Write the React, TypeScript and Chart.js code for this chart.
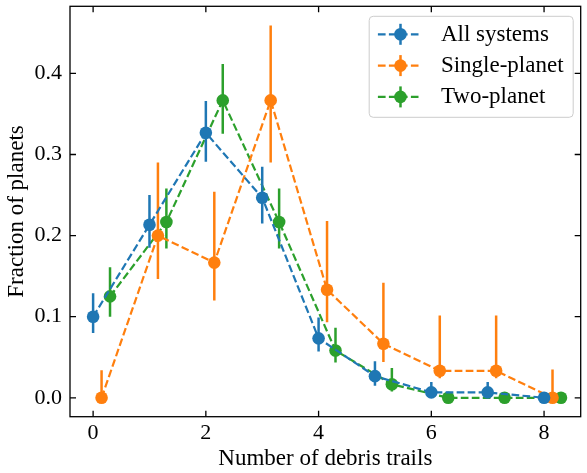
import { useEffect, useRef } from "react";
import { Chart, registerables } from "chart.js";

Chart.register(...registerables);

// ---- data ----
const xAll = [0, 1, 2, 3, 4, 5, 6, 7, 8];
const xSingle = [0.15, 1.15, 2.15, 3.15, 4.15, 5.15, 6.15, 7.15, 8.15];
const xTwo = [0.3, 1.3, 2.3, 3.3, 4.3, 5.3, 6.3, 7.3, 8.3];

const allValues = [0.1, 0.2133, 0.3267, 0.2467, 0.0733, 0.0267, 0.0067, 0.0067, 0];
const allLow = [0.08, 0.185, 0.291, 0.215, 0.057, 0.015, 0.002, 0.002, 0];
const allHigh = [0.129, 0.25, 0.366, 0.285, 0.099, 0.045, 0.0196, 0.0196, 0];

const singleValues = [0, 0.2, 0.1667, 0.3667, 0.1333, 0.0667, 0.0333, 0.0333, 0];
const singleLow = [0, 0.1465, 0.12, 0.29, 0.093, 0.044, 0.024, 0.024, 0];
const singleHigh = [0.034, 0.29, 0.254, 0.459, 0.218, 0.142, 0.1015, 0.1015, 0.035];

const twoValues = [0.125, 0.2167, 0.3667, 0.2167, 0.0583, 0.0167, 0, 0, 0];
const twoLow = [0.1, 0.184, 0.3256, 0.184, 0.0434, 0.0078, 0, 0, 0];
const twoHigh = [0.161, 0.258, 0.4115, 0.258, 0.0864, 0.0368, 0, 0, 0];

const seriesLabels = ["All systems", "Single-planet", "Two-planet"];
const seriesColors = ["#1f77b4", "#ff7f0e", "#2ca02c"];

const xTitle = "Number of debris trails";
const yTitle = "Fraction of planets";

const FONT = '"Liberation Serif", "Times New Roman", serif';
const FSIZE = 22;
const TSIZE = 23;
const DASH = [7.7, 3.3];

const errorBarPlugin = {
  id: "errorBars",
  beforeDatasetDraw(chart: any, args: any) {
    const ds = chart.data.datasets[args.index];
    if (!ds.errLow) return;
    const { ctx, chartArea } = chart;
    const xs = chart.scales.x;
    const ys = chart.scales.y;
    ctx.save();
    ctx.beginPath();
    ctx.rect(chartArea.left, chartArea.top, chartArea.right - chartArea.left, chartArea.bottom - chartArea.top);
    ctx.clip();
    ctx.strokeStyle = ds.borderColor;
    ctx.lineWidth = 2.5;
    ctx.setLineDash([]);
    ds.data.forEach((p: any, i: number) => {
      const lo = ds.errLow[i];
      const hi = ds.errHigh[i];
      if (hi - lo <= 0) return;
      const px = xs.getPixelForValue(p.x);
      ctx.beginPath();
      ctx.moveTo(px, ys.getPixelForValue(lo));
      ctx.lineTo(px, ys.getPixelForValue(hi));
      ctx.stroke();
    });
    ctx.restore();
  },
};

const frameTicksPlugin = {
  id: "frameTicks",
  afterDatasetsDraw(chart: any) {
    const { ctx, chartArea } = chart;
    const { left, right, top, bottom } = chartArea;
    const xs = chart.scales.x;
    const ys = chart.scales.y;
    const TL = 6;
    ctx.save();
    ctx.strokeStyle = "#000";
    ctx.lineWidth = 1.3;
    ctx.setLineDash([]);
    ctx.strokeRect(left, top, right - left, bottom - top);
    ctx.beginPath();
    xs.ticks.forEach((t: any) => {
      const px = xs.getPixelForValue(t.value);
      ctx.moveTo(px, bottom);
      ctx.lineTo(px, bottom - TL);
      ctx.moveTo(px, top);
      ctx.lineTo(px, top + TL);
    });
    ys.ticks.forEach((t: any) => {
      const py = ys.getPixelForValue(t.value);
      ctx.moveTo(left, py);
      ctx.lineTo(left + TL, py);
      ctx.moveTo(right, py);
      ctx.lineTo(right - TL, py);
    });
    ctx.stroke();
    ctx.restore();
  },
};

const legendPlugin = {
  id: "customLegend",
  afterDraw(chart: any) {
    const { ctx, chartArea } = chart;
    const w = 204;
    const h = 101;
    const x0 = chartArea.right - 7.5 - w;
    const y0 = chartArea.top + 10;
    ctx.save();
    const r = 4;
    ctx.beginPath();
    ctx.moveTo(x0 + r, y0);
    ctx.lineTo(x0 + w - r, y0);
    ctx.quadraticCurveTo(x0 + w, y0, x0 + w, y0 + r);
    ctx.lineTo(x0 + w, y0 + h - r);
    ctx.quadraticCurveTo(x0 + w, y0 + h, x0 + w - r, y0 + h);
    ctx.lineTo(x0 + r, y0 + h);
    ctx.quadraticCurveTo(x0, y0 + h, x0, y0 + h - r);
    ctx.lineTo(x0, y0 + r);
    ctx.quadraticCurveTo(x0, y0, x0 + r, y0);
    ctx.closePath();
    ctx.fillStyle = "rgba(255,255,255,0.8)";
    ctx.fill();
    ctx.strokeStyle = "#cccccc";
    ctx.lineWidth = 1;
    ctx.stroke();
    chart.data.datasets.forEach((ds: any, i: number) => {
      const cy = y0 + 18 + i * 31.3;
      const hx0 = x0 + 8.7;
      const hx1 = x0 + 49.3;
      const mx = x0 + 31.3;
      ctx.strokeStyle = ds.borderColor;
      ctx.lineWidth = 2.2;
      ctx.setLineDash(DASH);
      ctx.beginPath();
      ctx.moveTo(hx0, cy);
      ctx.lineTo(hx1, cy);
      ctx.stroke();
      ctx.setLineDash([]);
      ctx.lineWidth = 2.5;
      ctx.beginPath();
      ctx.moveTo(mx, cy - 10.5);
      ctx.lineTo(mx, cy + 10.5);
      ctx.stroke();
      ctx.fillStyle = ds.borderColor;
      ctx.beginPath();
      ctx.arc(mx, cy, 6.3, 0, Math.PI * 2);
      ctx.fill();
      ctx.fillStyle = "#000";
      ctx.font = `${TSIZE}px ${FONT}`;
      ctx.textAlign = "left";
      ctx.textBaseline = "middle";
      ctx.fillText(ds.label, x0 + 71.7, cy + 0.5);
    });
    ctx.restore();
  },
};

function makeDataset(label: string, color: string, xs: number[], ys: number[], lo: number[], hi: number[]) {
  return {
    label,
    data: xs.map((x, i) => ({ x, y: ys[i] })),
    errLow: lo,
    errHigh: hi,
    showLine: true,
    borderColor: color,
    backgroundColor: color,
    borderWidth: 2.2,
    borderDash: DASH,
    pointRadius: 6.3,
    pointHoverRadius: 6.3,
    pointBorderWidth: 0,
    pointBackgroundColor: color,
    tension: 0,
    clip: false,
  };
}

export default function App() {
  const ref = useRef<HTMLCanvasElement>(null);
  useEffect(() => {
    const chart = new Chart(ref.current as HTMLCanvasElement, {
      type: "scatter",
      data: {
        datasets: [
          makeDataset(seriesLabels[0], seriesColors[0], xAll, allValues, allLow, allHigh),
          makeDataset(seriesLabels[1], seriesColors[1], xSingle, singleValues, singleLow, singleHigh),
          makeDataset(seriesLabels[2], seriesColors[2], xTwo, twoValues, twoLow, twoHigh),
        ] as any,
      },
      options: {
        responsive: false,
        devicePixelRatio: 1,
        animation: false,
        layout: { padding: { top: 5, right: 1.5, left: 0, bottom: 0 } },
        plugins: {
          legend: { display: false },
          tooltip: { enabled: false },
        },
        scales: {
          x: {
            type: "linear",
            min: -0.41,
            max: 8.65,
            grid: { display: false, drawTicks: false },
            border: { display: false },
            ticks: {
              stepSize: 2,
              includeBounds: false,
              padding: 3,
              color: "#000",
              font: { family: FONT, size: FSIZE },
              callback: (v: any) => String(v),
            },
            title: {
              display: true,
              text: xTitle,
              color: "#000",
              font: { family: FONT, size: TSIZE },
              padding: { top: 0, bottom: 0 },
            },
            afterFit: (s: any) => {
              s.height = 56.3;
              s.paddingLeft = 0;
              s.paddingRight = 0;
            },
          },
          y: {
            type: "linear",
            min: -0.0233,
            max: 0.4827,
            grid: { display: false, drawTicks: false },
            border: { display: false },
            ticks: {
              stepSize: 0.1,
              includeBounds: false,
              padding: 8,
              color: "#000",
              font: { family: FONT, size: FSIZE },
              callback: (v: any) => Number(v).toFixed(1),
            },
            title: {
              display: true,
              text: yTitle,
              color: "#000",
              font: { family: FONT, size: TSIZE },
              padding: { top: 3, bottom: 0 },
            },
            afterFit: (s: any) => {
              s.width = 70;
              s.paddingTop = 0;
              s.paddingBottom = 0;
            },
          },
        },
      } as any,
      plugins: [errorBarPlugin, frameTicksPlugin, legendPlugin],
    });
    return () => chart.destroy();
  }, []);
  return (
    <div style={{ position: "absolute", left: 0, top: 0, width: 587, height: 473, background: "#fff" }}>
      <canvas ref={ref} width={587} height={473} style={{ display: "block", width: 587, height: 473 }} />
    </div>
  );
}
